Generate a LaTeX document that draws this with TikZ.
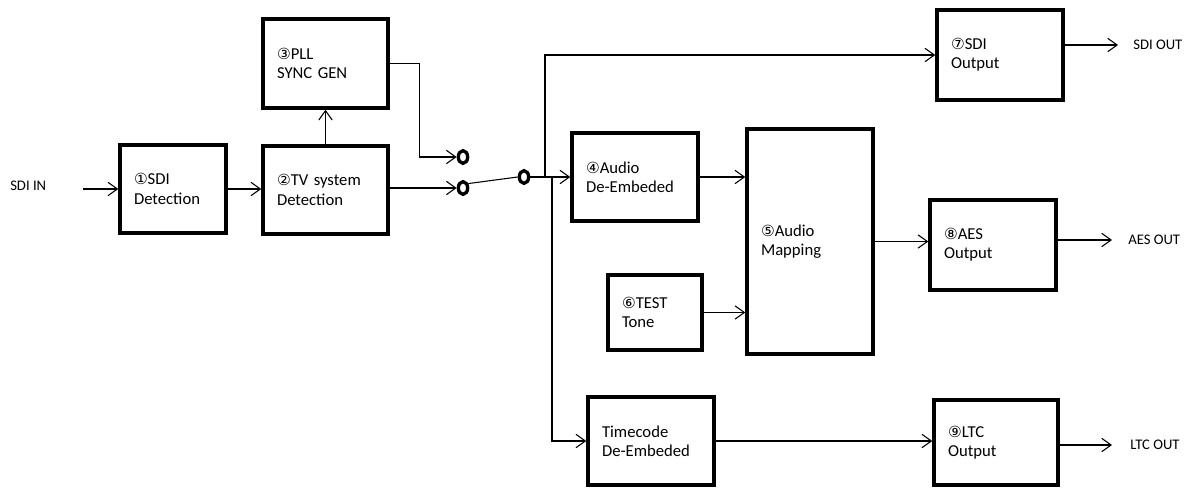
\documentclass[tikz,border=0pt]{standalone}
\usepackage{fontspec}
\setmainfont{Carlito}
\newfontfamily\circfont{DejaVu Sans}
\usetikzlibrary{
	arrows.meta,
	positioning,
	shapes.geometric
}
\newcommand{\numc}[1]{{\circfont\fontsize{11.5}{12}\selectfont #1}}
\tikzset{
	cajaBloque/.style={
		draw=black,
		line width=2.6pt,
		align=left,
		inner xsep=10.5pt,
		inner ysep=2pt,
		font=\fontsize{12.5}{14.5}\selectfont
	},
	flechaSenal/.style={
		-{Straight Barb[length=7pt,width=10pt]},
		line width=0.8pt
	},
	lineaSenal/.style={
		line width=0.8pt
	},
	contactoSw/.style={
		ellipse,
		draw,
		line width=2.5pt,
		inner sep=0pt,
		minimum width=7pt,
		minimum height=9.5pt
	},
	textoES/.style={
		inner sep=0pt,
		anchor=west,
		font=\fontsize{11}{13}\selectfont
	}
}

\begin{document}
\begin{tikzpicture}[x=0.75pt, y=-0.75pt]
		\useasboundingbox (0,0) rectangle (1195,488);
		% bloques
		\node[cajaBloque, text width=58.5pt, minimum height=66pt] (sdiDet) at (173,189) {\numc{①}SDI\\Detection};
		\node[cajaBloque, text width=72.75pt, minimum height=66pt] (tvDet) at (325.5,190) {\numc{②}TV system\\Detection};
		\node[cajaBloque, text width=72.75pt, minimum height=66.75pt] (pllGen) at (325.5,63.5) {\numc{③}PLL\\SYNC GEN};
		\node[cajaBloque, text width=73.5pt, minimum height=66pt] (audDeemb) at (635,177) {\numc{④}Audio\\De-Embeded};
		\node[cajaBloque, text width=73.5pt, minimum height=168.75pt] (audMap) at (810,241.5) {\numc{⑤}Audio\\Mapping};
		\node[cajaBloque, text width=49.5pt, minimum height=56.25pt] (testTone) at (655,312.5) {\numc{⑥}TEST\\Tone};
		\node[cajaBloque, text width=73.5pt, minimum height=67.5pt] (sdiOut) at (1000,55) {\numc{⑦}SDI\\Output};
		\node[cajaBloque, text width=73.5pt, minimum height=67.5pt] (aesOut) at (993,245) {\numc{⑧}AES\\Output};
		\node[cajaBloque, text width=73.5pt, minimum height=66pt] (tcDeemb) at (651,441) {Timecode\\De-Embeded};
		\node[cajaBloque, text width=72pt, minimum height=63.75pt] (ltcOut) at (996,442.5) {\numc{⑨}LTC\\Output};
		% conmutador
		\node[contactoSw] (conA) at (463,157) {};
		\node[contactoSw] (conB) at (463,188) {};
		\node[contactoSw] (conC) at (524,177) {};
		% entradas y salidas
		\node[textoES] (lblSdiIn) at (10,186) {SDI IN};
		\node[textoES] (lblSdiOut) at (1133,45) {SDI OUT};
		\node[textoES] (lblAesOut) at (1128,240) {AES OUT};
		\node[textoES] (lblLtcOut) at (1130,445) {LTC OUT};
		\coordinate (entSdi) at (83,189);
		\coordinate (finSdi) at (1118,45);
		\coordinate (finAes) at (1112,240);
		\coordinate (finLtc) at (1112,445);
		\coordinate (nodoSup) at (545,177);
		\coordinate (nodoInf) at (552,177);
		% conexiones
		\draw[flechaSenal] (entSdi) -- (sdiDet.west);
		\draw[flechaSenal] (sdiDet.east) -- (sdiDet.east -| tvDet.west);
		\draw[flechaSenal] (tvDet.north) -- (pllGen.south);
		\draw[flechaSenal] (pllGen.east) -- ++(30,0) |- (conA.west);
		\draw[flechaSenal] (tvDet.east |- conB) -- (conB.west);
		\draw[lineaSenal] (conB.40) -- (conC.west);
		\draw[flechaSenal] (conC.east) -- (audDeemb.west);
		\draw[flechaSenal] (nodoSup) |- (sdiOut.west);
		\draw[flechaSenal] (nodoInf) |- (tcDeemb.west);
		\draw[flechaSenal] (audDeemb.east) -- (audDeemb.east -| audMap.west);
		\draw[flechaSenal] (testTone.east) -- (testTone.east -| audMap.west);
		\draw[flechaSenal] (audMap.east) -- (audMap.east -| aesOut.west);
		\draw[flechaSenal] (tcDeemb.east) -- (tcDeemb.east -| ltcOut.west);
		\draw[flechaSenal] (sdiOut.east |- finSdi) -- (finSdi);
		\draw[flechaSenal] (aesOut.east |- finAes) -- (finAes);
		\draw[flechaSenal] (ltcOut.east |- finLtc) -- (finLtc);
	\end{tikzpicture}
\end{document}
